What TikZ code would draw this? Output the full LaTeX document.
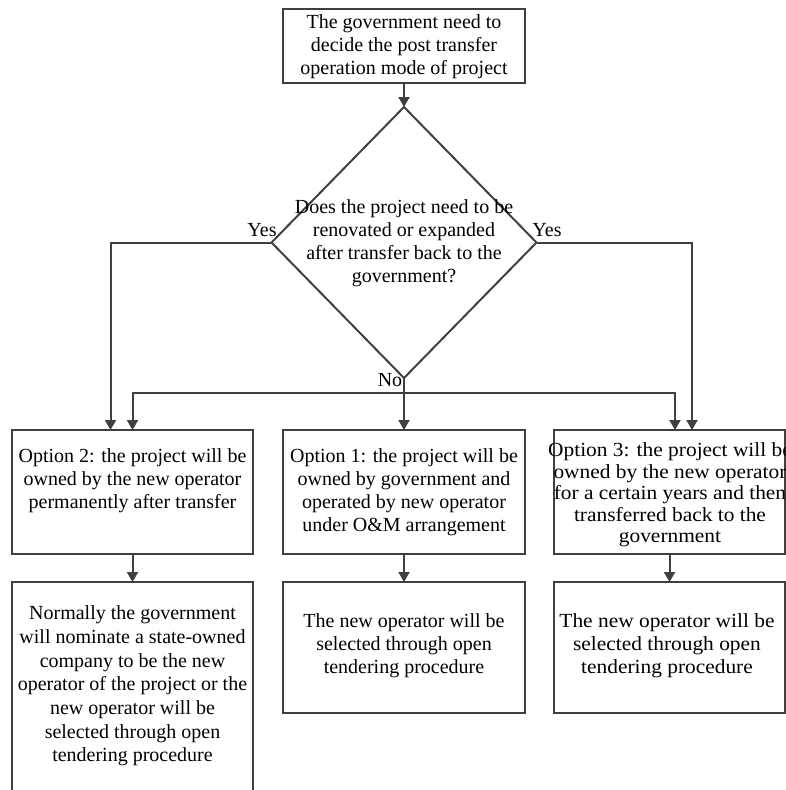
\documentclass[tikz,border=0pt]{standalone}
\usepackage{fontspec}
\setmainfont{Liberation Serif}
\newfontfamily\widefont[FakeStretch=1.07]{Liberation Serif}
\usetikzlibrary{shapes.geometric,arrows.meta}
\definecolor{lncol}{HTML}{404040}
\begin{document}
\begin{tikzpicture}[x=1pt,y=-1pt,
  box/.style={draw=lncol, line width=2pt, rectangle, inner sep=0pt, outer sep=0pt},
  txt/.style={align=center, font=\fontsize{20}{23}\selectfont, inner sep=0pt},
  arr/.style={draw=lncol, line width=2pt, -{Triangle[width=11pt,length=10pt]}},
  plain/.style={draw=lncol, line width=2pt}]
\clip (0,0) rectangle (786,790);
% boxes
\node[box, minimum width=242pt, minimum height=74pt] (top) at (404,46) {};
\node[draw=lncol, line width=2pt, diamond, minimum width=265pt, minimum height=271pt, inner sep=0pt, outer sep=0pt] (dec) at (404,242.5) {};
\node[box, minimum width=241pt, minimum height=124pt] (opt2) at (132.5,492) {};
\node[box, minimum width=242pt, minimum height=124pt] (opt1) at (404,492) {};
\node[box, minimum width=231pt, minimum height=124pt] (opt3) at (669.5,492) {};
\node[box, minimum width=241pt, minimum height=240pt, anchor=north] (low2) at (132.5,582) {};
\node[box, minimum width=242pt, minimum height=131pt] (low1) at (404,647.5) {};
\node[box, minimum width=231pt, minimum height=131pt] (low3) at (669.5,647.5) {};
% texts
\node[txt] (ttop) at (404,47) {The government need to\\decide the post transfer\\operation mode of project};
\node[txt] (tdec) at (404,243) {Does the project need to be\\renovated or expanded\\after transfer back to the\\government?};
\node[txt] (topt2) at (132.5,481) {Option 2: the project will be\\owned by the new operator\\permanently after transfer};
\node[txt] (topt1) at (404,492.5) {Option 1: the project will be\\owned by government and\\operated by new operator\\under O\&M arrangement};
\node[txt, font=\widefont\fontsize{20}{21.5}\selectfont] (topt3) at (670,495) {Option 3: the project will be\\owned by the new operator\\for a certain years and then\\transferred back to the\\government};
\node[txt, font=\fontsize{20}{23.7}\selectfont] (tlow2) at (132.5,686) {Normally the government\\will nominate a state-owned\\company to be the new\\operator of the project or the\\new operator will be\\selected through open\\tendering procedure};
\node[txt] (tlow1) at (404,646) {The new operator will be\\selected through open\\tendering procedure};
\node[txt, font=\widefont\fontsize{20}{23}\selectfont] (tlow3) at (667,646) {The new operator will be\\selected through open\\tendering procedure};
% labels
\node[txt] (yesl) at (262,230) {Yes};
\node[txt] (yesr) at (547,230) {Yes};
\node[txt] (no) at (390,380.5) {No};
% connectors
\draw[arr] (top.south) -- (dec.north);
\draw[arr] (dec.west) -| ([xshift=-22pt]opt2.north);
\draw[arr] (dec.east) -| ([xshift=22.5pt]opt3.north);
\draw[arr] (dec.south) -- (opt1.north);
\coordinate (junc) at (404,393);
\draw[arr] (junc) -| (opt2.north);
\draw[arr] (junc) -| ([xshift=5.5pt]opt3.north);
\draw[arr] (opt2.south) -- (low2.north);
\draw[arr] (opt1.south) -- (low1.north);
\draw[arr] (opt3.south) -- (low3.north);
\end{tikzpicture}
\end{document}
